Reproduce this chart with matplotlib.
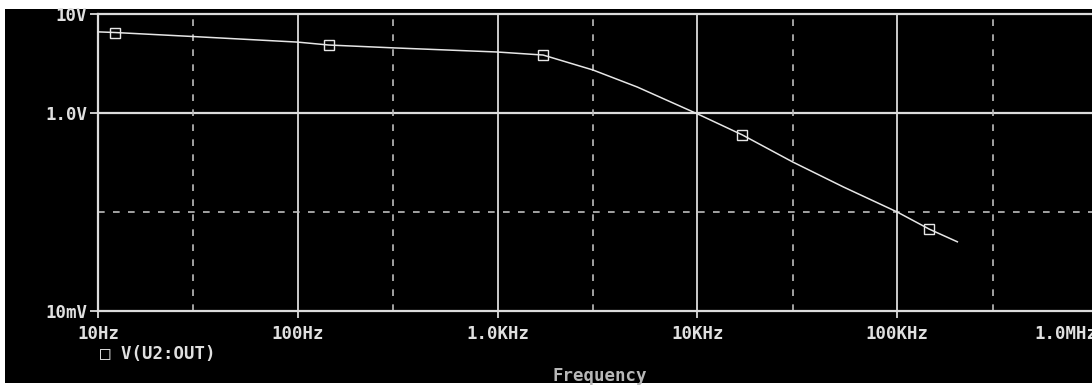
import matplotlib
matplotlib.use("Agg")
import matplotlib.pyplot as plt
from matplotlib.patches import Rectangle

# Data
freq_hz = [10, 12.2, 30, 100, 143, 300, 1000, 1690, 3000, 5000, 10000, 16800, 30000, 53800, 100000, 145000, 200000]
v_out = [6.6, 6.5, 5.92, 5.2, 4.86, 4.55, 4.13, 3.85, 2.72, 1.83, 0.98, 0.6, 0.32, 0.179, 0.1, 0.067, 0.05]
marker_freqs = [12.2, 143, 1690, 16800, 145000]
x_ticks = [10, 100, 1000, 10000, 100000, 1000000]
x_tick_labels = ["10Hz", "100Hz", "1.0KHz", "10KHz", "100KHz", "1.0MHz"]
y_ticks = [0.01, 1.0, 10]
y_tick_labels = ["10mV", "1.0V", "10V"]
x_dashed = [30, 300, 3000, 30000, 300000]
y_dashed = [0.1]
trace_name = "V(U2:OUT)"
x_title = "Frequency"

W, H = 1092, 387
fig = plt.figure(figsize=(W / 100, H / 100), dpi=100)
fig.patch.set_facecolor("white")
fig.add_artist(Rectangle((5 / W, 1 - 383 / H), 1.0, (383 - 9) / H,
                         transform=fig.transFigure, facecolor="black",
                         edgecolor="none", zorder=0))

left_px, right_px = 98, 1097
top_px, bot_px = 14, 311
ax = fig.add_axes([left_px / W, 1 - bot_px / H, (right_px - left_px) / W, (bot_px - top_px) / H])
ax.set_facecolor("black")
ax.set_xscale("log")
ax.set_yscale("log")
ax.set_xlim(10, 1e6)
ax.set_ylim(0.01, 10)

gc = "#dcdcdc"
for s in ["left", "top", "bottom"]:
    ax.spines[s].set_color(gc)
    ax.spines[s].set_linewidth(1.6)
ax.spines["right"].set_visible(False)

for xv in x_ticks[1:]:
    ax.axvline(xv, color=gc, lw=1.3, zorder=1)
for yv in y_ticks[1:2]:
    ax.axhline(yv, color=gc, lw=1.6, zorder=1)
for xv in x_dashed:
    ax.axvline(xv, color="#bdbdbd", lw=1.2, ls=(0, (4, 5)), zorder=1)
for yv in y_dashed:
    ax.axhline(yv, color="#bdbdbd", lw=1.2, ls=(0, (4, 5)), zorder=1)

mk_idx = [freq_hz.index(f) for f in marker_freqs]
ax.plot(freq_hz, v_out, color="#e6e6e6", lw=1.1, marker="s", markersize=7,
        markerfacecolor="none", markeredgecolor="#e6e6e6", markeredgewidth=1.0,
        markevery=mk_idx, zorder=3, clip_on=False)

ax.set_xticks(x_ticks)
ax.set_xticklabels(x_tick_labels)
ax.set_yticks(y_ticks)
ax.set_yticklabels(y_tick_labels)
ax.minorticks_off()
fs = 12.5
ax.tick_params(axis="x", colors=gc, length=5, width=1.3, pad=5, labelsize=fs,
               labelcolor="#e0e0e0", direction="out")
ax.tick_params(axis="y", colors=gc, length=6, width=1.3, pad=2, labelsize=fs,
               labelcolor="#e0e0e0", direction="out")
for lab in ax.get_xticklabels() + ax.get_yticklabels():
    lab.set_family("DejaVu Sans Mono")
    lab.set_fontweight("bold")
ax.get_xticklabels()[-1].set_horizontalalignment("right")

fig.text(100 / W, 1 - 354 / H, "\u25a1 " + trace_name, color="#e0e0e0",
         family="DejaVu Sans Mono", fontweight="bold", fontsize=fs,
         ha="left", va="center")
fig.text(600 / W, 1 - 376 / H, x_title, color="#b8b8b8",
         family="DejaVu Sans Mono", fontweight="bold", fontsize=fs,
         ha="center", va="center")

fig.savefig("out.png", dpi=100, facecolor="white")
